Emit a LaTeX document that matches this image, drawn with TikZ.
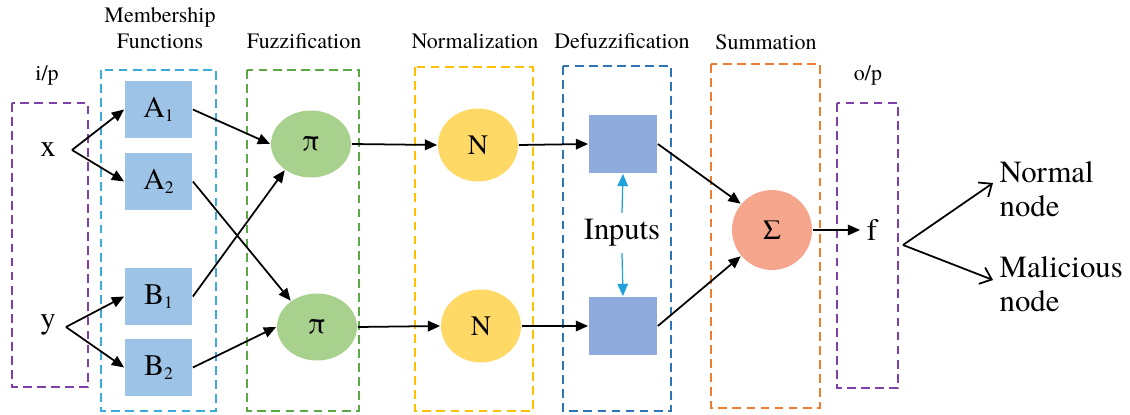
\documentclass[tikz,border=0pt]{standalone}
\usepackage{fontspec}
\setmainfont{TeX Gyre Termes}
\usepackage{xcolor}
\usetikzlibrary{positioning}
\usetikzlibrary{arrows.meta}
\usetikzlibrary{shapes.geometric}
\definecolor{ipcol}{RGB}{128,64,170}
\definecolor{mfcol}{RGB}{60,170,220}
\definecolor{fzcol}{RGB}{90,170,70}
\definecolor{nmcol}{RGB}{255,192,0}
\definecolor{dfcol}{RGB}{46,117,182}
\definecolor{smcol}{RGB}{237,125,49}
\definecolor{mffill}{RGB}{157,195,230}
\definecolor{dffill}{RGB}{143,170,220}
\definecolor{fzfill}{RGB}{169,209,142}
\definecolor{nmfill}{RGB}{255,217,102}
\definecolor{smfill}{RGB}{246,166,140}
\definecolor{inpcol}{RGB}{30,160,220}
\tikzset{grpbox/.style={dashed, line width=1.6pt, dash pattern=on 5pt off 3pt},
head/.style={font=\fontsize{12.5}{14.5}\selectfont, align=center},
big/.style={font=\fontsize{17.5}{19}\selectfont}}
\newcommand{\lowsub}[1]{\raisebox{-0.35ex}{\fontsize{10}{10}\selectfont #1}}

\begin{document}
\begin{tikzpicture}[x=0.02cm, y=-0.02cm, line width=1pt,
	mf/.style={draw=none, fill=mffill, minimum width=1.34cm, minimum height=1.14cm, font=\fontsize{17}{19}\selectfont},
	pinode/.style={ellipse, fill=fzfill, minimum width=1.6cm, minimum height=1.34cm, font=\fontsize{17}{19}\selectfont},
	nnode/.style={ellipse, fill=nmfill, minimum width=1.6cm, minimum height=1.46cm, font=\fontsize{16}{18}\selectfont},
	dfbox/.style={fill=dffill, minimum width=1.36cm, minimum height=1.16cm},
	arr/.style={-{Triangle[length=7pt,width=6pt]}},
	outarr/.style={-{Straight Barb[length=6pt,width=10pt]}}]
	\useasboundingbox (0,0) rectangle (1130,415);
	% dashed layer boxes
	\draw[grpbox, ipcol] (12,103) rectangle (88,387);
	\draw[grpbox, mfcol] (101,70) rectangle (216,411);
	\draw[grpbox, fzcol] (247,70) rectangle (359,411);
	\draw[grpbox, nmcol] (415,67) rectangle (533,411);
	\draw[grpbox, dfcol] (563,66) rectangle (671,411);
	\draw[grpbox, smcol] (711,64) rectangle (820,408);
	\draw[grpbox, ipcol] (837,103) rectangle (898,388);
	% layer titles
	\node[head] (tip) at (47,75) {i/p};
	\node[head] (tmf) at (160,28) {Membership\\Functions};
	\node[head] (tfz) at (304,41) {Fuzzification};
	\node[head] (tnm) at (475,41) {Normalization};
	\node[head] (tdf) at (622,41) {Defuzzification};
	\node[head] (tsm) at (766,42) {Summation};
	\node[head] (top) at (868,75) {o/p};
	% nodes
	\node[big] (x) at (48,150) {x};
	\node[big] (y) at (48,325) {y};
	\coordinate (xj) at (72,150);
	\coordinate (yj) at (66,327);
	\node[mf] (a1) at (158.5,109.5) {A\lowsub{1}};
	\node[mf] (a2) at (158.5,181.5) {A\lowsub{2}};
	\node[mf] (b1) at (158.5,296.5) {B\lowsub{1}};
	\node[mf] (b2) at (158.5,367.5) {B\lowsub{2}};
	\node[pinode] (p1) at (311,144) {π};
	\node[pinode] (p2) at (317,327) {π};
	\node[nnode] (n1) at (478,145) {N};
	\node[nnode] (n2) at (481,326) {N};
	\node[dfbox] (r1) at (623,144) {};
	\node[dfbox] (r2) at (623,326) {};
	\node[big] (inp) at (622,233) {Inputs};
	\node[circle, fill=smfill, minimum size=1.6cm, font=\fontsize{16}{18}\selectfont] (sig) at (772,230) {Σ};
	\node[big] (f) at (872,230) {f};
	\coordinate (fj) at (903,245);
	\node[big, anchor=west, align=left] (norm) at (993,189) {Normal\\node};
	\node[big, anchor=west, align=left] (mal) at (993,284) {Malicious\\node};
	% connectors
	\draw[arr] (xj) -- (a1.west);
	\draw[arr] (xj) -- (a2.west);
	\draw[arr] (yj) -- (b1.west);
	\draw[arr] (yj) -- (b2.west);
	\draw[arr] (a1.east) -- (p1.west);
	\draw[arr] (a2.east) -- (p2.135);
	\draw[arr] (b1.east) -- (p1.225);
	\draw[arr] (b2.east) -- (p2.west);
	\draw[arr] (p1.east) -- (n1.west);
	\draw[arr] (p2.east) -- (n2.west);
	\draw[arr] (n1.east) -- (r1.west);
	\draw[arr] (n2.east) -- (r2.west);
	\draw[arr, inpcol, line width=0.7pt] (inp.north) -- (r1.south);
	\draw[arr, inpcol, line width=0.7pt] (inp.south) -- (r2.north);
	\draw[arr] (r1.east) -- (sig.140);
	\draw[arr] (r2.east) -- (sig.220);
	\draw[arr] (sig.east) -- (f.west);
	\draw[outarr] (fj) -- (norm.west |- 0,183);
	\draw[outarr] (fj) -- (mal.west |- 0,280);
\end{tikzpicture}
\end{document}
